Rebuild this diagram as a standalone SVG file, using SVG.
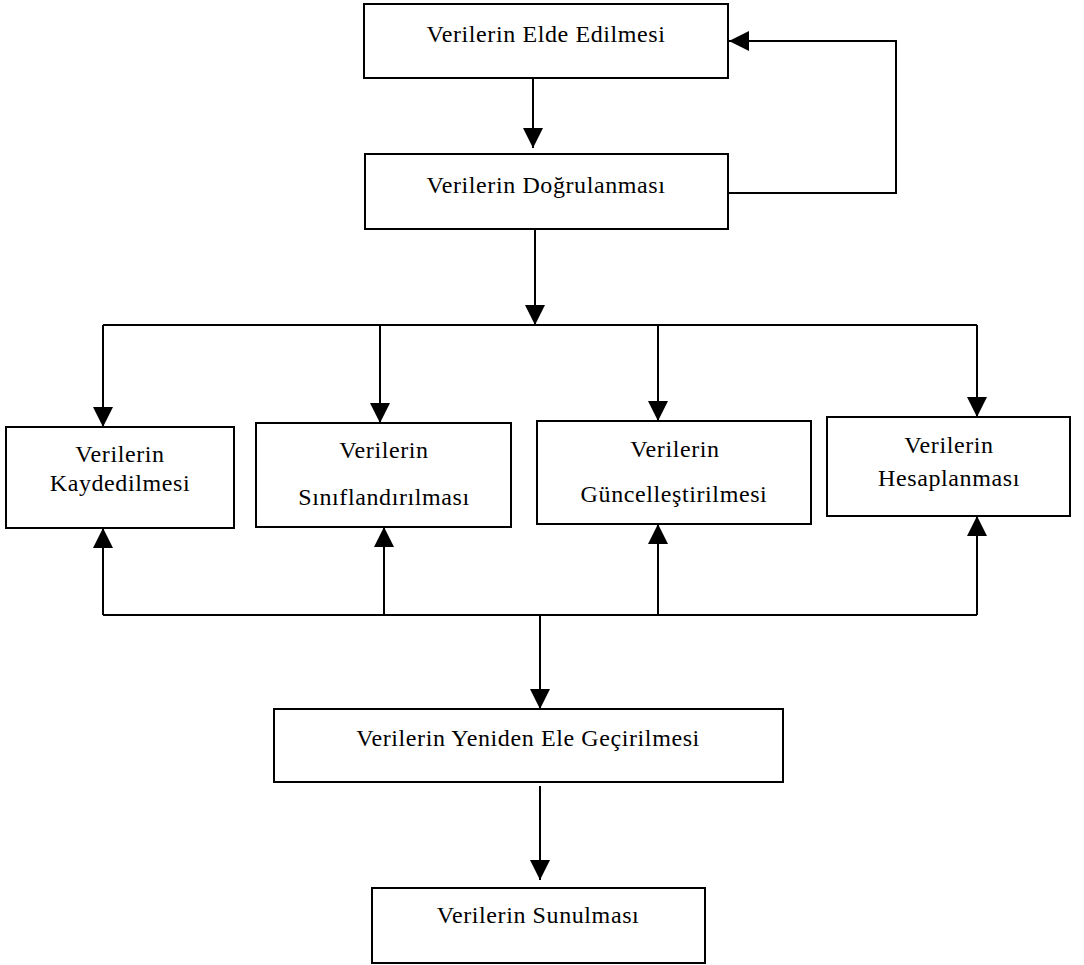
<svg xmlns="http://www.w3.org/2000/svg" width="1084" height="965" viewBox="0 0 1084 965">
<style>
.box{fill:#fff;stroke:#000;stroke-width:2}
.t{font-family:"Liberation Serif","Times New Roman",serif;font-size:24px;fill:#000;text-anchor:middle;letter-spacing:0.6px}
.c{fill:none;stroke:#000;stroke-width:2}
</style>
<defs>
<marker id="ah" viewBox="0 0 10 10" refX="10" refY="5" markerUnits="userSpaceOnUse" markerWidth="20" markerHeight="20" orient="auto">
<path d="M0,0 L10,5 L0,10 z" fill="#000"/>
</marker>
</defs>
<rect width="1084" height="965" fill="#fff"/>
<g id="connectors">
<path class="c" d="M533,78 V148" marker-end="url(#ah)"/>
<path class="c" d="M728,193 H896 V41 H729" marker-end="url(#ah)"/>
<path class="c" d="M535,229 V325" marker-end="url(#ah)"/>
<path class="c" d="M103,325 H977"/>
<path class="c" d="M103,325 V427" marker-end="url(#ah)"/>
<path class="c" d="M380,325 V423" marker-end="url(#ah)"/>
<path class="c" d="M658,325 V421" marker-end="url(#ah)"/>
<path class="c" d="M977,325 V417" marker-end="url(#ah)"/>
<path class="c" d="M103,615 H977"/>
<path class="c" d="M103,615 V528" marker-end="url(#ah)"/>
<path class="c" d="M384,615 V527" marker-end="url(#ah)"/>
<path class="c" d="M658,615 V524" marker-end="url(#ah)"/>
<path class="c" d="M977,615 V516" marker-end="url(#ah)"/>
<path class="c" d="M540,615 V709" marker-end="url(#ah)"/>
<path class="c" d="M540,786 V880" marker-end="url(#ah)"/>
</g>
<g id="n1"><rect class="box" x="364" y="4" width="364" height="74"/><text class="t" x="546" y="42">Verilerin Elde Edilmesi</text></g>
<g id="n2"><rect class="box" x="365" y="154" width="363" height="75"/><text class="t" x="546" y="193">Verilerin Doğrulanması</text></g>
<g id="n3"><rect class="box" x="6" y="427" width="228" height="101"/><text class="t" x="120" y="462">Verilerin</text><text class="t" x="120" y="491">Kaydedilmesi</text></g>
<g id="n4"><rect class="box" x="256" y="423" width="255" height="104"/><text class="t" x="384" y="458">Verilerin</text><text class="t" x="384" y="505">Sınıflandırılması</text></g>
<g id="n5"><rect class="box" x="537" y="421" width="274" height="103"/><text class="t" x="675" y="457">Verilerin</text><text class="t" x="674" y="502">Güncelleştirilmesi</text></g>
<g id="n6"><rect class="box" x="827" y="417" width="243" height="99"/><text class="t" x="949" y="453">Verilerin</text><text class="t" x="949" y="486">Hesaplanması</text></g>
<g id="n7"><rect class="box" x="274" y="709" width="509" height="73"/><text class="t" x="528" y="746">Verilerin Yeniden Ele Geçirilmesi</text></g>
<g id="n8"><rect class="box" x="372" y="888" width="333" height="75"/><text class="t" x="538" y="923">Verilerin Sunulması</text></g>
</svg>
